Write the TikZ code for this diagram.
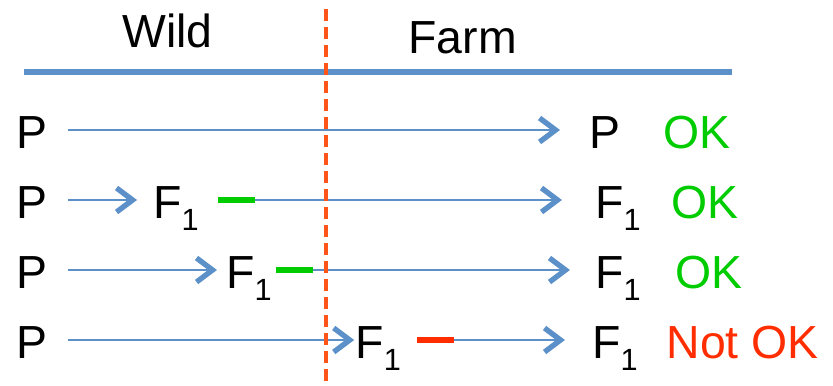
\documentclass[tikz,border=0pt]{standalone}
\usepackage{fontspec}
\setmainfont{Liberation Sans}
\usetikzlibrary{arrows.meta}
\definecolor{lblue}{RGB}{91,144,200}
\definecolor{dorange}{RGB}{255,85,25}
\definecolor{okgreen}{RGB}{0,204,0}
\definecolor{nred}{RGB}{255,45,0}
\newcommand\subone{\raisebox{-9pt}{\fontsize{23}{26}\selectfont 1}}
\tikzset{
  lbl/.style={inner sep=0pt, outer sep=0pt, font=\fontsize{34.8}{40}\selectfont},
  rowtxt/.style={lbl, text height=27.75pt, text depth=0pt, anchor=west},
  arr/.style={draw=lblue, line width=1.4pt, -{Straight Barb[length=12pt, width=18pt, line width=4pt]}},
  gbar/.style={draw=okgreen, line width=4.5pt},
  rbar/.style={draw=nred, line width=4.5pt},
  topline/.style={draw=lblue, line width=4.2pt},
  dashline/.style={draw=dorange, line width=2.3pt, dash pattern=on 9pt off 4.5pt}
}
\begin{document}
\begin{tikzpicture}[x=0.75pt, y=-0.75pt]
\useasboundingbox (0,0) rectangle (833,386);
% headings
\node[lbl, anchor=base west] (wild) at (122.5,47) {Wild};
\node[lbl, anchor=base west] (farm) at (408.5,53) {Farm};
\coordinate (tl) at (24,72);
\coordinate (tr) at (732,72);
\draw[topline] (tl) -- (tr);
% row 1
\node[rowtxt] (pL1) at (16.5,130) {P};
\node[rowtxt] (pR1) at (589.5,130) {P};
\node[rowtxt, text=okgreen] (ok1) at (663,130) {OK};
\draw[arr, shorten <=15.6pt, shorten >=22.1pt] (pL1.east) -- (pR1.west);
% row 2
\node[rowtxt] (pL2) at (16.5,200) {P};
\node[rowtxt] (f2) at (153.3,200) {F\subone};
\node[rowtxt] (fR2) at (595.3,200) {F\subone};
\node[rowtxt, text=okgreen] (ok2) at (671,200) {OK};
\draw[arr, shorten <=15.6pt, shorten >=12.2pt] (pL2.east) -- (f2.west);
\draw[arr, shorten <=14.6pt, shorten >=25pt] (f2.east) -- (fR2.west);
\draw[gbar] ([xshift=14.6pt]f2.east) -- ++(37,0);
% row 3
\node[rowtxt] (pL3) at (16.5,270) {P};
\node[rowtxt] (f3) at (226.3,270) {F\subone};
\node[rowtxt] (fR3) at (595.3,270) {F\subone};
\node[rowtxt, text=okgreen] (ok3) at (675,270) {OK};
\draw[arr, shorten <=15.6pt, shorten >=7pt] (pL3.east) -- (f3.west);
\draw[arr, shorten <=3.4pt, shorten >=19pt] (f3.east) -- (fR3.west);
\draw[gbar] ([xshift=3.4pt]f3.east) -- ++(37,0);
% row 4
\node[rowtxt] (pL4) at (16.5,340) {P};
\node[rowtxt] (f4) at (355.5,340) {F\subone};
\node[rowtxt] (fR4) at (592.3,340) {F\subone};
\node[rowtxt, text=nred] (nok) at (666.5,340) {Not OK};
\draw[arr, shorten <=15.6pt, shorten >=1pt] (pL4.east) -- (f4.west);
\draw[arr, shorten <=12.4pt, shorten >=20.5pt] (f4.east) -- (fR4.west);
\draw[rbar] ([xshift=12.4pt]f4.east) -- ++(37,0);
% divider
\coordinate (dtop) at (326,9);
\coordinate (dbot) at (326,390);
\draw[dashline] (dtop) -- (dbot);
\end{tikzpicture}
\end{document}
